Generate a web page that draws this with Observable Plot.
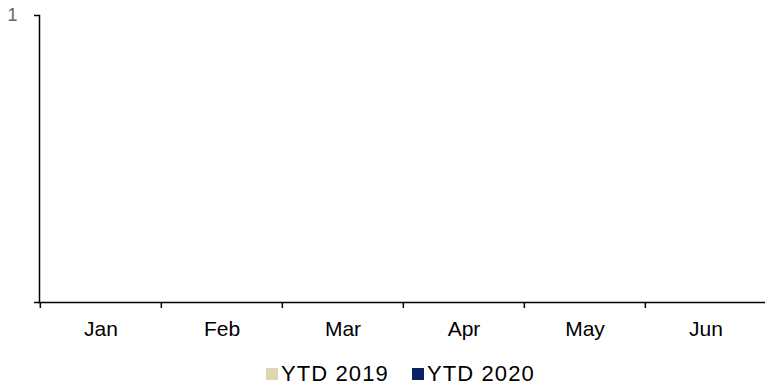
<!DOCTYPE html>
<html>
<head>
<meta charset="utf-8">
<script src="https://cdn.jsdelivr.net/npm/d3@7"></script>
<script src="https://cdn.jsdelivr.net/npm/@observablehq/plot@0.6"></script>
<style>
  html, body { margin: 0; padding: 0; background: #fff; }
  body { width: 765px; height: 392px; overflow: hidden; font-family: "Liberation Sans", Arial, sans-serif; }
  #chart svg { display: block; overflow: visible; }
  .legend { position: relative; height: 42px; font-size: 22px; letter-spacing: 1.1px; color: #000; }
  .legend .item { position: absolute; top: 11px; display: flex; align-items: center; white-space: nowrap; }
  .legend .sw { width: 12px; height: 12px; margin-right: 3px; }
</style>
</head>
<body>
<div id="chart"></div>
<div class="legend" id="legend"></div>
<script>
// Month categories and year-to-date series (no values reported yet)
const months = ["Jan", "Feb", "Mar", "Apr", "May", "Jun"];
const ytd2019 = [null, null, null, null, null, null];
const ytd2020 = [null, null, null, null, null, null];
const seriesNames = ["YTD 2019", "YTD 2020"];
const seriesColors = ["#ddd8b4", "#0c2163"];
const yTicks = [0, 1];

const rows2019 = months.map((m, i) => ({month: m, value: ytd2019[i]}));
const rows2020 = months.map((m, i) => ({month: m, value: ytd2020[i]}));

const W = 765, H = 350, ML = 39, MR = -2;
const bandW = (W - ML - MR) / months.length;

const chart = Plot.plot({
  width: W,
  height: H,
  marginLeft: ML,
  marginRight: MR,
  marginTop: 15,
  marginBottom: 48,
  style: {fontFamily: "'Liberation Sans', Arial, sans-serif", background: "#fff"},
  x: {type: "band", domain: months, padding: 0, axis: null, label: null},
  y: {domain: [0, 1], axis: null, label: null},
  marks: [
    Plot.barY(rows2019, {x: "month", y: "value", fill: seriesColors[0], insetLeft: bandW * 0.2, insetRight: bandW * 0.5}),
    Plot.barY(rows2020, {x: "month", y: "value", fill: seriesColors[1], insetLeft: bandW * 0.5, insetRight: bandW * 0.2}),
    // category boundary ticks
    Plot.axisX({tickSize: 6, tickFormat: () => "", label: null, dx: -bandW / 2, stroke: "#000", strokeWidth: 1.5}),
    // category labels
    Plot.axisX({tickSize: 0, tickPadding: 19, label: null, fontSize: 21, fill: "#000", style: {letterSpacing: "0.6px"}}),
    Plot.axisY({ticks: yTicks, tickSize: 5, tickPadding: 17, label: null, tickFormat: d => d === 1 ? "1" : "", fontSize: 18, stroke: "#000", fill: "#666", strokeWidth: 1.5}),
    Plot.frame({anchor: "left", stroke: "#000", strokeWidth: 1.5}),
    Plot.frame({anchor: "bottom", stroke: "#000", strokeWidth: 1.5})
  ]
});
document.getElementById("chart").appendChild(chart);

// legend
const legend = document.getElementById("legend");
const lefts = [266, 412];
seriesNames.forEach((name, i) => {
  const item = document.createElement("div");
  item.className = "item";
  item.style.left = lefts[i] + "px";
  const sw = document.createElement("span");
  sw.className = "sw";
  sw.style.background = seriesColors[i];
  const t = document.createElement("span");
  t.textContent = name;
  item.appendChild(sw);
  item.appendChild(t);
  legend.appendChild(item);
});
</script>
</body>
</html>
